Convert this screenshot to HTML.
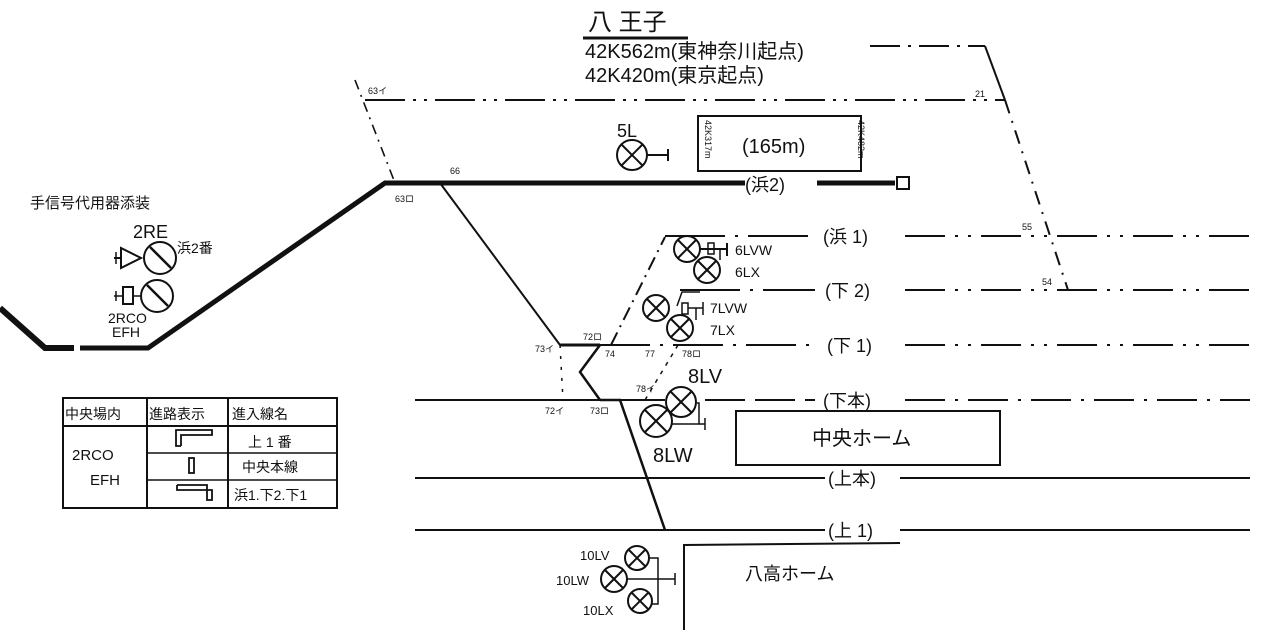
<!DOCTYPE html>
<html><head><meta charset="utf-8"><style>
html,body{margin:0;padding:0;background:#fff;}
svg{display:block;}
text{font-family:"Liberation Sans","Noto Sans CJK JP",sans-serif;fill:#111;}
</style></head><body>
<svg width="1276" height="630" viewBox="0 0 1276 630" xmlns="http://www.w3.org/2000/svg">
<g stroke="#111" fill="none" stroke-linecap="butt">
<!-- thick main line -->
<polyline points="0,308 45,348 74,348" stroke-width="6"/>
<polyline points="80,348 148,348 385,183 895,183" stroke-width="5"/>
<rect x="897" y="177" width="12" height="12" stroke-width="2"/>
<!-- top dash-dot -->
<line x1="365" y1="100" x2="1005" y2="100" stroke-width="2" stroke-dasharray="40,8,3,8,3,8"/>
<line x1="355" y1="80" x2="395" y2="183" stroke-width="1.6" stroke-dasharray="10,6,2,6"/>
<line x1="870" y1="46" x2="985" y2="46" stroke-width="2" stroke-dasharray="30,8,3,8"/>
<line x1="985" y1="46" x2="1005" y2="100" stroke-width="2"/>
<line x1="1005" y1="100" x2="1068" y2="290" stroke-width="2" stroke-dasharray="14,8,2,8"/>
<!-- title underline -->
<line x1="583" y1="38" x2="688" y2="38" stroke-width="3"/>
<!-- box 165m -->
<rect x="698" y="116" width="163" height="55" stroke-width="2"/>
<!-- 5L signal -->
<circle cx="632" cy="155" r="15" stroke-width="2"/>
<line x1="621" y1="144" x2="643" y2="166" stroke-width="2"/><line x1="643" y1="144" x2="621" y2="166" stroke-width="2"/>
<line x1="647" y1="155" x2="668" y2="155" stroke-width="2"/><line x1="668" y1="149" x2="668" y2="161" stroke-width="2"/>
<!-- diagonal tracks -->
<line x1="440" y1="183" x2="560" y2="345" stroke-width="2"/>
<line x1="560" y1="345" x2="600" y2="345" stroke-width="3"/>
<polyline points="600,345 580,372 600,400" stroke-width="2.5"/>
<polyline points="600,400 620,400 665,530" stroke-width="2.5"/>
<line x1="560" y1="345" x2="563" y2="400" stroke-width="1.5" stroke-dasharray="3,8"/>
<line x1="611" y1="345" x2="665" y2="237" stroke-width="2" stroke-dasharray="14,6,2,6"/>
<line x1="678" y1="345" x2="645" y2="400" stroke-width="1.5" stroke-dasharray="4,6"/>
<!-- horizontal tracks -->
<line x1="665" y1="236" x2="815" y2="236" stroke-width="2" stroke-dasharray="60,10,3,10"/>
<line x1="905" y1="236" x2="1250" y2="236" stroke-width="2" stroke-dasharray="40,10,3,10,3,10"/>
<line x1="680" y1="290" x2="815" y2="290" stroke-width="2" stroke-dasharray="60,10,3,10"/>
<line x1="905" y1="290" x2="1250" y2="290" stroke-width="2" stroke-dasharray="40,10,3,10,3,10"/>
<line x1="600" y1="345" x2="815" y2="345" stroke-width="2" stroke-dasharray="50,10,3,10"/>
<line x1="905" y1="345" x2="1250" y2="345" stroke-width="2" stroke-dasharray="40,10,3,10,3,10"/>
<line x1="415" y1="400" x2="665" y2="400" stroke-width="2"/>
<line x1="705" y1="400" x2="815" y2="400" stroke-width="2" stroke-dasharray="40,10"/>
<line x1="905" y1="400" x2="1250" y2="400" stroke-width="2" stroke-dasharray="40,10,3,10"/>
<line x1="415" y1="478" x2="825" y2="478" stroke-width="2"/>
<line x1="900" y1="478" x2="1250" y2="478" stroke-width="2"/>
<line x1="415" y1="530" x2="825" y2="530" stroke-width="2"/>
<line x1="900" y1="530" x2="1250" y2="530" stroke-width="2"/>
<!-- platforms -->
<rect x="736" y="411" width="264" height="54" stroke-width="2"/>
<polyline points="684,630 684,545 900,543" stroke-width="2"/>
<!-- 6L signals -->
<circle cx="687" cy="249" r="13" stroke-width="2"/><line x1="678" y1="240" x2="696" y2="258" stroke-width="2"/><line x1="696" y1="240" x2="678" y2="258" stroke-width="2"/>
<circle cx="707" cy="270" r="13" stroke-width="2"/><line x1="698" y1="261" x2="716" y2="279" stroke-width="2"/><line x1="716" y1="261" x2="698" y2="279" stroke-width="2"/>
<line x1="700" y1="249" x2="727" y2="249" stroke-width="2"/><rect x="708" y="243" width="6" height="11" stroke-width="1.5"/><line x1="727" y1="243" x2="727" y2="256" stroke-width="2"/><line x1="720" y1="249" x2="720" y2="260" stroke-width="1.5"/>
<!-- 7L signals -->
<circle cx="656" cy="308" r="13" stroke-width="2"/><line x1="647" y1="299" x2="665" y2="317" stroke-width="2"/><line x1="665" y1="299" x2="647" y2="317" stroke-width="2"/>
<circle cx="680" cy="328" r="13" stroke-width="2"/><line x1="671" y1="319" x2="689" y2="337" stroke-width="2"/><line x1="689" y1="319" x2="671" y2="337" stroke-width="2"/>
<polyline points="677,306 682,292 700,292" stroke-width="1.5"/><rect x="682" y="303" width="6" height="11" stroke-width="1.5"/><line x1="688" y1="308" x2="703" y2="308" stroke-width="1.5"/><line x1="703" y1="302" x2="703" y2="315" stroke-width="1.5"/><line x1="696" y1="308" x2="696" y2="320" stroke-width="1.5"/>
<!-- 8L signals -->
<circle cx="681" cy="402" r="15" stroke-width="2"/><line x1="670" y1="391" x2="692" y2="413" stroke-width="2"/><line x1="692" y1="391" x2="670" y2="413" stroke-width="2"/>
<circle cx="656" cy="421" r="16" stroke-width="2"/><line x1="645" y1="410" x2="667" y2="432" stroke-width="2"/><line x1="667" y1="410" x2="645" y2="432" stroke-width="2"/>
<polyline points="697,403 699,403 699,424 672,424" stroke-width="1.5"/><line x1="705" y1="418" x2="705" y2="430" stroke-width="1.5"/><line x1="699" y1="424" x2="705" y2="424" stroke-width="1.5"/>
<!-- 10L signals -->
<circle cx="637" cy="558" r="12" stroke-width="2"/><line x1="629" y1="550" x2="645" y2="566" stroke-width="2"/><line x1="645" y1="550" x2="629" y2="566" stroke-width="2"/>
<circle cx="614" cy="579" r="13" stroke-width="2"/><line x1="605" y1="570" x2="623" y2="588" stroke-width="2"/><line x1="623" y1="570" x2="605" y2="588" stroke-width="2"/>
<circle cx="640" cy="601" r="12" stroke-width="2"/><line x1="632" y1="593" x2="648" y2="609" stroke-width="2"/><line x1="648" y1="593" x2="632" y2="609" stroke-width="2"/>
<polyline points="649,558 658,558 658,604 652,604" stroke-width="1.5"/><line x1="627" y1="579" x2="675" y2="579" stroke-width="1.5"/><line x1="675" y1="573" x2="675" y2="585" stroke-width="1.5"/>
<!-- 2RE / 2RCO -->
<circle cx="160" cy="258" r="16" stroke-width="2"/><line x1="150" y1="247" x2="171" y2="268" stroke-width="2.5"/>
<polygon points="121,248 121,268 141,258" stroke-width="2"/><line x1="114" y1="258" x2="121" y2="258" stroke-width="2"/><line x1="116" y1="252" x2="116" y2="264" stroke-width="1.5"/>
<circle cx="157" cy="296" r="16" stroke-width="2"/><line x1="147" y1="285" x2="168" y2="306" stroke-width="2.5"/>
<rect x="123" y="287" width="10" height="17" stroke-width="2"/><line x1="133" y1="296" x2="141" y2="296" stroke-width="1.5"/><line x1="114" y1="296" x2="123" y2="296" stroke-width="1.5"/><line x1="116" y1="291" x2="116" y2="301" stroke-width="1.5"/>
<!-- table -->
<rect x="63" y="398" width="274" height="110" stroke-width="2"/>
<line x1="63" y1="426" x2="337" y2="426" stroke-width="2"/>
<line x1="147" y1="398" x2="147" y2="508" stroke-width="2"/>
<line x1="228" y1="398" x2="228" y2="508" stroke-width="2"/>
<line x1="147" y1="453" x2="337" y2="453" stroke-width="1.5"/>
<line x1="147" y1="480" x2="337" y2="480" stroke-width="1.5"/>
<polyline points="181,446 181,435 212,435 212,430 176,430 176,446 181,446" stroke-width="1.8"/>
<rect x="189" y="458" width="5" height="15" stroke-width="1.8"/>
<polyline points="177,485 207,485 207,500 212,500 212,490 177,490 177,485" stroke-width="1.8"/>
</g>
<!-- texts -->
<text x="588" y="30" font-size="24">八 王子</text>
<text x="585" y="58" font-size="20">42K562m(東神奈川起点)</text>
<text x="585" y="82" font-size="20">42K420m(東京起点)</text>
<text x="617" y="137" font-size="18">5L</text>
<text x="742" y="153" font-size="20">(165m)</text>
<text x="705" y="120" font-size="9" transform="rotate(90 705 120)">42K317m</text>
<text x="858" y="120" font-size="9" transform="rotate(90 858 120)">42K482m</text>
<rect x="745" y="174" width="72" height="20" fill="#fff"/>
<text x="745" y="191" font-size="18">(浜2)</text>
<rect x="818" y="226" width="86" height="20" fill="#fff"/><text x="823" y="243" font-size="18">(浜 1)</text>
<rect x="818" y="280" width="86" height="20" fill="#fff"/><text x="825" y="297" font-size="18">(下 2)</text>
<rect x="818" y="335" width="86" height="20" fill="#fff"/><text x="827" y="352" font-size="18">(下 1)</text>
<rect x="818" y="390" width="86" height="20" fill="#fff"/><text x="823" y="407" font-size="18">(下本)</text>
<text x="828" y="485" font-size="18">(上本)</text>
<text x="828" y="537" font-size="18">(上 1)</text>
<text x="812" y="445" font-size="20">中央ホーム</text>
<text x="745" y="580" font-size="18">八高ホーム</text>
<text x="735" y="255" font-size="14">6LVW</text>
<text x="735" y="277" font-size="14">6LX</text>
<text x="710" y="313" font-size="14">7LVW</text>
<text x="710" y="335" font-size="14">7LX</text>
<text x="688" y="383" font-size="20">8LV</text>
<text x="653" y="462" font-size="20">8LW</text>
<text x="580" y="560" font-size="13">10LV</text>
<text x="556" y="585" font-size="13">10LW</text>
<text x="583" y="615" font-size="13">10LX</text>
<text x="368" y="94" font-size="9">63イ</text>
<text x="395" y="202" font-size="9">63ロ</text>
<text x="450" y="174" font-size="9">66</text>
<text x="975" y="97" font-size="9">21</text>
<text x="1022" y="230" font-size="9">55</text>
<text x="1042" y="285" font-size="9">54</text>
<text x="535" y="352" font-size="9">73イ</text>
<text x="583" y="340" font-size="9">72ロ</text>
<text x="605" y="357" font-size="9">74</text>
<text x="645" y="357" font-size="9">77</text>
<text x="682" y="357" font-size="9">78ロ</text>
<text x="545" y="414" font-size="9">72イ</text>
<text x="590" y="414" font-size="9">73ロ</text>
<text x="636" y="392" font-size="9">78イ</text>
<text x="30" y="208" font-size="15">手信号代用器添装</text>
<text x="133" y="238" font-size="18">2RE</text>
<text x="177" y="253" font-size="14">浜2番</text>
<text x="108" y="323" font-size="14">2RCO</text>
<text x="112" y="337" font-size="14">EFH</text>
<text x="65" y="419" font-size="14">中央場内</text>
<text x="149" y="419" font-size="14">進路表示</text>
<text x="232" y="419" font-size="14">進入線名</text>
<text x="72" y="460" font-size="15">2RCO</text>
<text x="90" y="485" font-size="15">EFH</text>
<text x="248" y="447" font-size="14">上 1 番</text>
<text x="242" y="472" font-size="14">中央本線</text>
<text x="234" y="500" font-size="14">浜1.下2.下1</text>
</svg>
</body></html>
